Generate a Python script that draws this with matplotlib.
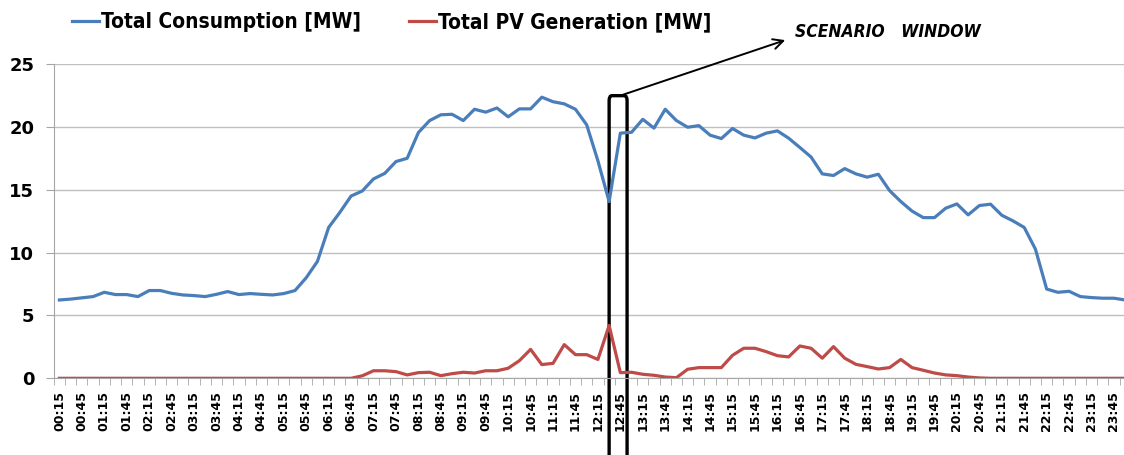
import numpy as np
import matplotlib
matplotlib.use("Agg")
import matplotlib.pyplot as plt
from matplotlib.patches import FancyBboxPatch
from matplotlib import font_manager

# Narrow font if available, otherwise DejaVu
names = {f.name for f in font_manager.fontManager.ttflist}
FONT = 'Liberation Sans Narrow' if 'Liberation Sans Narrow' in names else 'DejaVu Sans'
plt.rcParams['font.family'] = [FONT, 'DejaVu Sans']
has_condensed = any(f.name == 'DejaVu Sans' and f.stretch == 'condensed'
                    for f in font_manager.fontManager.ttflist)
STRETCH = 'condensed' if has_condensed else 'normal'

# 15-minute time stamps, 00:15 ... 24:00
times = ['%02d:%02d' % divmod(15 * (k + 1), 60) for k in range(96)]

consumption = [
    6.23, 6.30, 6.40, 6.50, 6.84, 6.66, 6.66, 6.50, 6.98, 6.98,
    6.76, 6.63, 6.58, 6.50, 6.68, 6.90, 6.66, 6.74, 6.68, 6.63,
    6.74, 6.98, 8.00, 9.30, 12.00, 13.20, 14.50, 14.90, 15.86, 16.30,
    17.24, 17.50, 19.55, 20.50, 20.96, 21.00, 20.50, 21.40, 21.17, 21.50,
    20.80, 21.43, 21.43, 22.36, 22.00, 21.83, 21.40, 20.16, 17.30, 14.06,
    19.50, 19.57, 20.60, 19.90, 21.40, 20.50, 19.97, 20.10, 19.34, 19.07,
    19.87, 19.34, 19.12, 19.50, 19.68, 19.10, 18.36, 17.60, 16.26, 16.13,
    16.68, 16.26, 16.00, 16.23, 14.93, 14.06, 13.30, 12.78, 12.78, 13.53,
    13.87, 13.00, 13.74, 13.85, 12.97, 12.52, 12.00, 10.27, 7.10, 6.84,
    6.92, 6.50, 6.42, 6.37, 6.37, 6.23,
]

pv_generation = [
    0, 0, 0, 0, 0, 0, 0, 0, 0, 0,
    0, 0, 0, 0, 0, 0, 0, 0, 0, 0,
    0, 0, 0, 0, 0, 0, 0, 0.20, 0.60, 0.60,
    0.53, 0.27, 0.45, 0.48, 0.21, 0.37, 0.48, 0.42, 0.60, 0.60,
    0.80, 1.40, 2.30, 1.09, 1.19, 2.68, 1.88, 1.88, 1.50, 4.20,
    0.45, 0.48, 0.32, 0.24, 0.10, 0.05, 0.72, 0.85, 0.85, 0.85,
    1.83, 2.39, 2.39, 2.12, 1.80, 1.70, 2.57, 2.39, 1.60, 2.52,
    1.60, 1.11, 0.93, 0.74, 0.85, 1.50, 0.85, 0.64, 0.42, 0.27,
    0.21, 0.10, 0.03, 0, 0, 0, 0, 0, 0, 0,
    0, 0, 0, 0, 0, 0,
]

window_start = times.index('12:30')
window_end = times.index('12:45')

W, H = 1124, 455
fig = plt.figure(figsize=(W / 100, H / 100), dpi=100)
ax = fig.add_axes([53.8 / W, 1 - 378.3 / H, 1077 / W, 314.3 / H])

x = np.arange(len(times))
l1, = ax.plot(x, consumption, color='#4A7EBB', lw=2.3, solid_joinstyle='round')
l2, = ax.plot(x, pv_generation, color='#BE4B48', lw=2.3, solid_joinstyle='round')

ax.set_xlim(-0.5, len(times) - 0.5)
ax.set_ylim(0, 25)
ax.set_yticks(range(0, 26, 5))
ax.yaxis.grid(True, color='#BFBFBF', lw=1.0)
ax.set_axisbelow(True)

ax.set_xticks(x[::2])
ax.set_xticklabels(times[::2], rotation=90, fontsize=9, fontweight='bold')
ax.set_xticks(np.arange(-0.5, len(times)), minor=True)
ax.tick_params(axis='x', which='major', length=0, pad=9)
ax.tick_params(axis='x', which='minor', length=5, color='#A6A6A6', direction='out')
ax.tick_params(axis='y', length=6, color='#A6A6A6', labelsize=13, pad=8)
for lab in ax.get_yticklabels():
    lab.set_fontweight('bold')

for side in ('top', 'right'):
    ax.spines[side].set_visible(False)
for side in ('left', 'bottom'):
    ax.spines[side].set_color('#A6A6A6')

# scenario window box around the 12:30-12:45 slots
box = FancyBboxPatch((window_start, -8), window_end + 0.6 - window_start, 30.48,
                     boxstyle='round,pad=0,rounding_size=0.25',
                     fill=False, ec='black', lw=2.4, clip_on=False,
                     mutation_aspect=1.6)
ax.add_patch(box)

ax.annotate('', xy=(64.7, 26.9), xytext=(window_end + 0.25, 22.56),
            xycoords='data', textcoords='data', annotation_clip=False,
            arrowprops=dict(arrowstyle='->', color='black', lw=1.4,
                            mutation_scale=18, shrinkA=0, shrinkB=0))
fig.text(795 / W, 1 - 32 / H, 'SCENARIO   WINDOW', fontsize=12.5,
         fontweight='bold', fontstyle='italic', fontstretch=STRETCH,
         va='center', ha='left')

fig.legend([l1, l2], ['Total Consumption [MW]', 'Total PV Generation [MW]'],
           loc='center left', bbox_to_anchor=(72 / W, 1 - 22 / H), ncol=2,
           frameon=False, handlelength=1.3, handletextpad=0.1,
           columnspacing=2.3, borderaxespad=0, borderpad=0,
           prop={'size': 15, 'weight': 'bold', 'stretch': STRETCH})

fig.savefig('out.png', dpi=100)
